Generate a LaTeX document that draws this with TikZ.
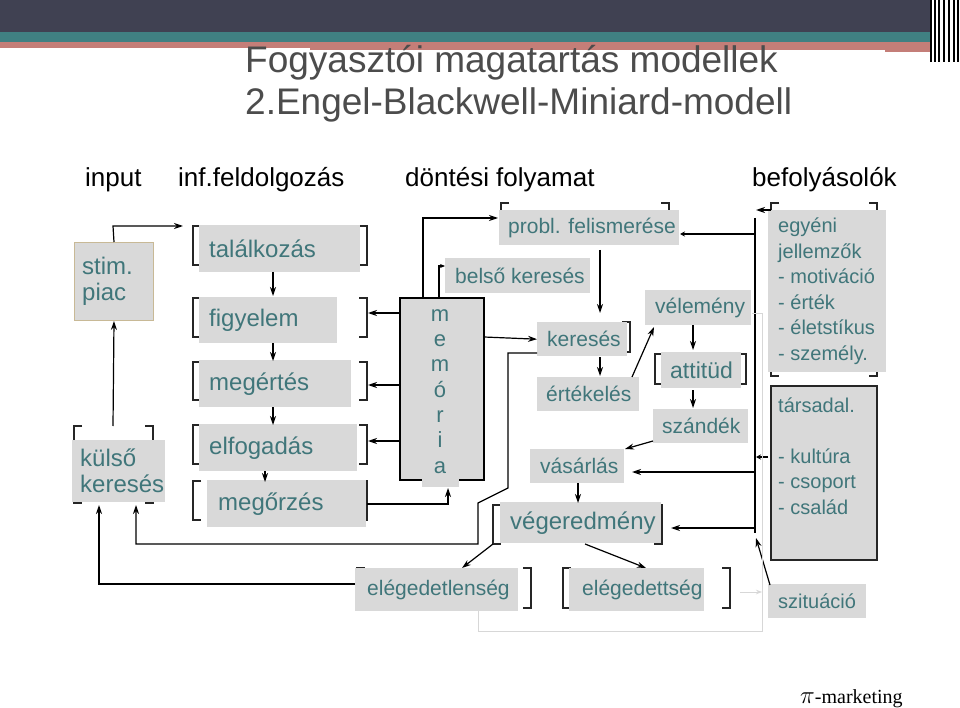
\documentclass[tikz,border=0pt]{standalone}
\usepackage{fontspec}
\setmainfont{Liberation Sans}
\usetikzlibrary{arrows.meta}
\definecolor{tc}{RGB}{64,118,122}
\definecolor{gb}{RGB}{217,217,217}
\definecolor{dark}{RGB}{64,65,82}
\definecolor{teal}{RGB}{64,128,130}
\definecolor{pink}{RGB}{196,126,120}
\definecolor{tan}{RGB}{200,185,150}
\definecolor{faint}{RGB}{215,215,215}
\tikzset{
 gbox/.style={fill=gb,anchor=north west,inner sep=0pt},
 gtxt/.style={anchor=west,inner sep=0pt,text=tc,align=left,font=\fontsize{24}{26}\selectfont},
 ar/.style={-{Stealth[length=9pt,width=6pt]},line width=1.2pt,black},
 ln/.style={line width=1.2pt,black},
 brk/.style={line width=1.4pt,black!85},
}
% \gbx[box opts]{x1}{y1}{x2}{y2}{name}{text}{text inset}
\newcommand{\gbx}[8][]{\node[gbox,minimum width=#4pt-#2pt,minimum height=#5pt-#3pt,#1] (#6) at (#2,#3) {};
 \node[gtxt] (#6t) at ([xshift=#8pt]#6.west) {#7};}
\newcommand{\brkt}[4]{\draw[brk] (#1+8,#2)--(#1,#2)--(#1,#4)--(#1+8,#4); \draw[brk] (#3-8,#2)--(#3,#2)--(#3,#4)--(#3-8,#4);}
\begin{document}
\begin{tikzpicture}[x=1pt,y=-1pt]
\useasboundingbox (0,0) rectangle (960,708);
\fill[white] (0,0) rectangle (960,708);
% header bars
\fill[dark] (0,0) rectangle (930,32);
\fill[teal] (0,32) rectangle (930,42);
\fill[pink] (0,42) rectangle (310,48);
\fill[pink] (310,42) rectangle (930,52);
\fill[white] (310,50) rectangle (885,54);
\foreach \x in {930,934,938,943,948,953,957} \fill[black] (\x,0) rectangle (\x+2,62);
% title
\node[anchor=west,text=black!70,font=\fontsize{37}{39}\selectfont,inner sep=0pt] (t1) at (245,63) {Fogyasztói magatartás modellek};
\node[anchor=west,text=black!70,font=\fontsize{37}{39}\selectfont,inner sep=0pt] (t2) at (245,105) {2.Engel-Blackwell-Miniard-modell};
% column headers
\tikzset{hd/.style={anchor=west,inner sep=0pt,font=\fontsize{26}{28}\selectfont}}
\node[hd] (h1) at (85,180) {input};
\node[hd] (h2) at (178,180) {inf.feldolgozás};
\node[hd] (h3) at (405,180) {döntési folyamat};
\node[hd] (h4) at (752,180) {befolyásolók};
% brackets
\brkt{193}{226}{367}{265}
\brkt{193}{298}{367}{337}
\brkt{193}{362}{367}{400}
\brkt{193}{425}{367}{464}
\brkt{193}{481}{367}{520}
\brkt{74}{426}{153}{503}
\brkt{501}{203}{669}{240}
\draw[brk] (622,322)--(630,322)--(630,352)--(622,352);
\brkt{655}{354}{746}{384}
\brkt{493}{505}{662}{544}
\brkt{357}{568}{531}{608}
\brkt{563}{568}{730}{608}
\brkt{771}{203}{877}{376}
% memória box
\draw[ln,fill=gb] (400,298) rectangle (484,480);
\fill[gb] (422,478) rectangle (459,487);
\node[text=tc,align=center,font=\fontsize{22}{25.3}\selectfont,anchor=north] (mem) at (440,306) {m\\e\\m\\ó\\r\\i\\a};
\coordinate (memb) at (448,488);
% társadal box
\draw[line width=1.4pt,black!85,fill=gb] (771,386) rectangle (877,560);
% gray boxes
\gbx[draw=tan,line width=1pt]{74}{242}{153}{320}{stim}{stim.\\piac}{8}
\gbx{72}{440}{165}{502}{kulso}{külső\\keresés}{8}
\gbx{199}{225}{360}{272}{tal}{találkozás}{10}
\gbx{199}{297}{337}{343}{fig}{figyelem}{10}
\gbx{199}{360}{351}{407}{meg}{megértés}{10}
\gbx{199}{424}{357}{471}{elf}{elfogadás}{10}
\gbx{207}{480}{366}{527}{mego}{megőrzés}{11}
\tikzset{gtxt/.append style={font=\fontsize{21}{23}\selectfont}}
\gbx{445}{258}{590}{293}{bel}{belső keresés}{10}
\gbx{499}{210}{679}{245}{prob}{probl. felismerése}{9}
\gbx{537}{322}{627}{356}{ker}{keresés}{10}
\gbx{537}{377}{639}{411}{ert}{értékelés}{9}
\gbx{645}{290}{751}{325}{vel}{vélemény}{10}
\gbx{661}{352}{741}{388}{att}{\fontsize{23}{25}\selectfont attitüd}{9}
\gbx{653}{409}{748}{443}{szan}{szándék}{9}
\gbx{530}{449}{624}{483}{vas}{vásárlás}{10}
\gbx{500}{502}{661}{543}{veg}{\fontsize{24}{26}\selectfont végeredmény}{10}
\gbx{355}{568}{518}{611}{eden}{elégedetlenség}{12}
\gbx{569}{568}{704}{611}{eds}{elégedettség}{13}
\tikzset{gtxt/.append style={font=\fontsize{20}{25.5}\selectfont}}
\gbx{768}{210}{886}{372}{egy}{egyéni\\jellemzők\\- motiváció\\- érték\\- életstíkus\\- személy.}{10}
\node[anchor=north west,text=tc,align=left,font=\fontsize{20}{25.5}\selectfont,inner sep=0pt] (tar) at (778,398) {társadal.\\[25pt] - kultúra\\- csoport\\- család};
\gbx{768}{584}{866}{618}{szit}{szituáció}{10}
% connectors left part
\draw[ar] (stim.north) -- (113,226) -- (183,226);
\draw[ar] (113,426) -- (stim.south);
\draw[ar] (273,272) -- (273,296);
\draw[ar] (273,343) -- (273,361);
\draw[ar] (273,407) -- (273,425);
\draw[ar] (265,471) -- (265,482);
\foreach \yy in {313,385,441} \draw[ar] (400,\yy) -- (368,\yy);
\draw[ar] (367,504) -| (memb);
\draw[ar] (423,298) |- (498,218);
\draw[ar,-{Stealth[length=5pt,width=4pt]}] (439,298) |- (445,266);
\draw[ar] (484,337) -- (ker.west);
\draw[ar] (600,250) -- (600,313);
\draw[ar] (600,357) -- (600,376);
\draw[ar] (632,377) -- (654,327);
\draw[ar] (693,325) -- (693,350);
\draw[ar] (693,390) -- (693,408);
\draw[ar] (653,441) -- (625,449);
\draw[ar] (578,483) -- (578,503);
\draw[ar] (493,544) -- (462,568);
\draw[ar] (585,544) -- (646,568);
\draw[ar] (537,353) -- (508,353) -- (508,488) -- (478,503) -- (478,544) -- (136,544) -- (136,505);
\draw[ar] (355,584) -- (99,584) -- (99,505);
% right side
\draw[ln] (755,218) -- (755,533);
\draw[ar,-{Stealth[length=5pt,width=5pt]}] (755,234) -- (680,234);
\draw[ar] (771,210) -- (756,210);
\draw[ar,-{Stealth[length=5pt,width=5pt]}] (768,457) -- (756,457);
\draw[ar] (755,472) -- (632,472);
\draw[ar] (755,528) -- (671,528);
\draw[ar] (770,585) -- (756,538);
% faint loop
\draw[faint,line width=1pt] (478,611) -- (478,631) -- (762,631) -- (762,313) -- (752,313);
\draw[faint,line width=1pt,-{Stealth[length=6pt]}] (740,592) -- (762,592);
% logo
\node[anchor=base west,inner sep=0pt] (pi) at (800,703) {\fontspec{Liberation Serif}\fontsize{44}{44}\selectfont$\pi$\fontsize{20}{20}\selectfont-marketing};
\end{tikzpicture}
\end{document}
